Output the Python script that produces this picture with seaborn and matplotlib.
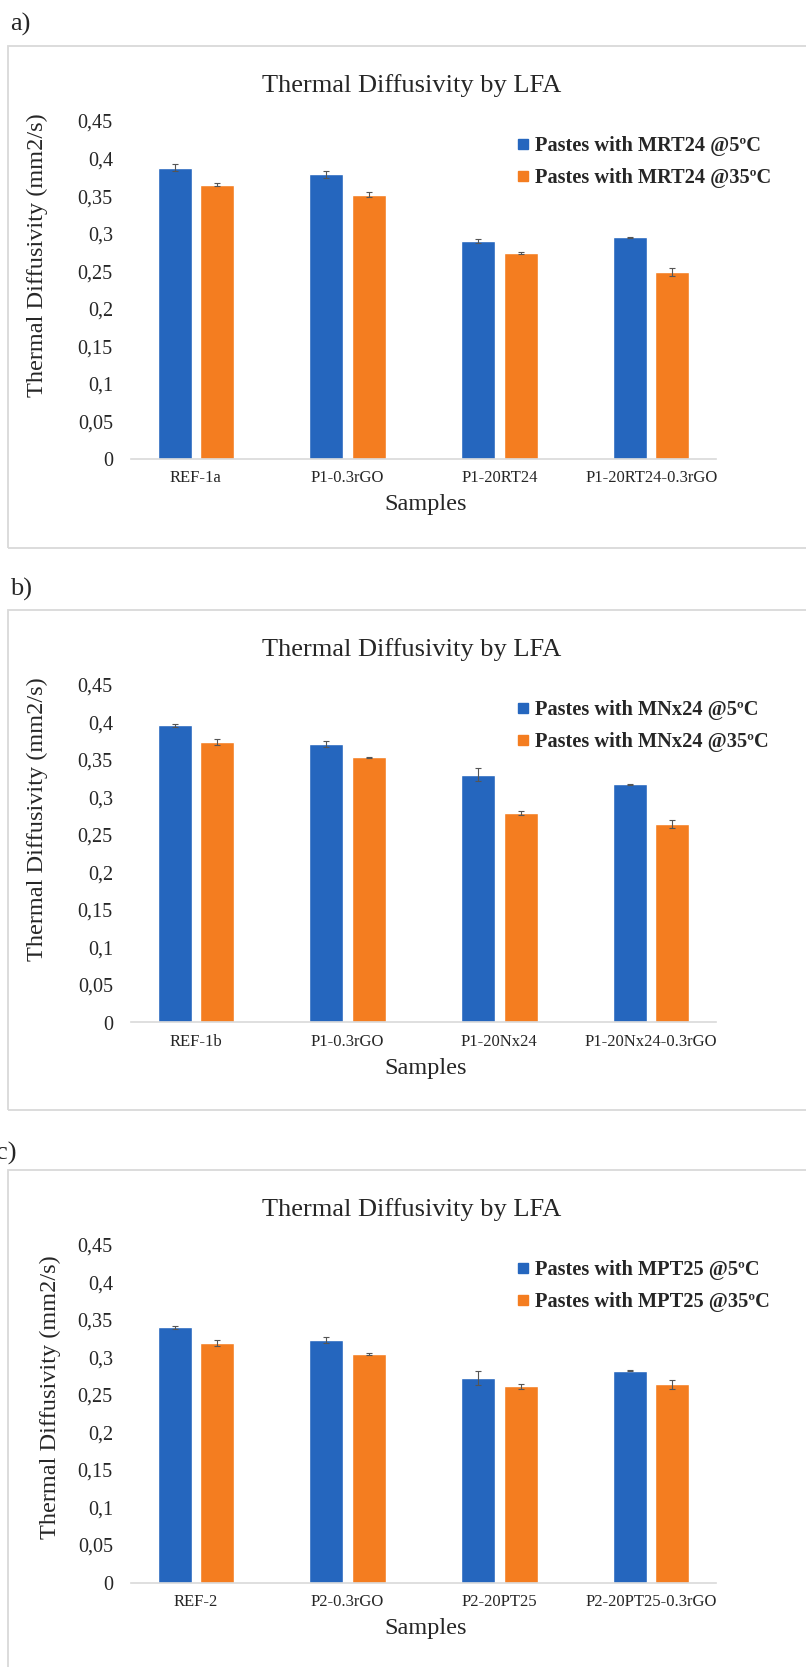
import numpy as np
import pandas as pd
import seaborn as sns
import matplotlib.pyplot as plt
from matplotlib.lines import Line2D
from matplotlib.patches import Rectangle
from matplotlib.ticker import FuncFormatter

# panel a) MRT24 pastes
samples_a = ["REF-1a", "P1-0.3rGO", "P1-20RT24", "P1-20RT24-0.3rGO"]
cold_a = [0.388, 0.379, 0.290, 0.295]
warm_a = [0.365, 0.352, 0.274, 0.249]
cold_err_a = [0.005, 0.005, 0.003, 0.001]
warm_err_a = [0.002, 0.003, 0.001, 0.005]

# panel b) MNx24 pastes
samples_b = ["REF-1b", "P1-0.3rGO", "P1-20Nx24", "P1-20Nx24-0.3rGO"]
cold_b = [0.396, 0.371, 0.330, 0.317]
warm_b = [0.373, 0.353, 0.279, 0.264]
cold_err_b = [0.002, 0.004, 0.009, 0.001]
warm_err_b = [0.004, 0.001, 0.003, 0.005]

# panel c) MPT25 pastes
samples_c = ["REF-2", "P2-0.3rGO", "P2-20PT25", "P2-20PT25-0.3rGO"]
cold_c = [0.340, 0.323, 0.272, 0.282]
warm_c = [0.319, 0.304, 0.261, 0.264]
cold_err_c = [0.002, 0.004, 0.009, 0.001]
warm_err_c = [0.004, 0.001, 0.003, 0.006]

materials = ["MRT24", "MNx24", "MPT25"]
panel_letters = ["a)", "b)", "c)"]

BLUE = "#2566BE"
ORANGE = "#F47D20"
GRID = "#d9d9d9"
W, H = 806, 1667

sns.set_style("white")
plt.rcParams["font.family"] = ["Liberation Serif", "DejaVu Serif"]

fig = plt.figure(figsize=(W / 100, H / 100), dpi=100)


def fx(px):
    return px / W


def fy(py):
    return 1 - py / H


def comma_fmt(v, _):
    return ("%g" % round(v, 2)).replace(".", ",")


def draw_panel(ax, samples, cold, warm, cold_err, warm_err, material, ylab_xy):
    lab_cold = f"Pastes with {material} @5ºC"
    lab_warm = f"Pastes with {material} @35ºC"
    df = pd.DataFrame({
        "Sample": samples * 2,
        "Value": cold + warm,
        "Series": [lab_cold] * len(samples) + [lab_warm] * len(samples),
    })
    sns.barplot(data=df, x="Sample", y="Value", hue="Series",
                palette=[BLUE, ORANGE], saturation=1, width=0.56, gap=0.2,
                errorbar=None, legend=False, ax=ax)

    for cont, errs in zip(ax.containers, [cold_err, warm_err]):
        xs = [p.get_x() + p.get_width() / 2 for p in cont.patches]
        ys = [p.get_height() for p in cont.patches]
        ax.errorbar(xs, ys, yerr=errs, fmt="none", ecolor="#555555",
                    elinewidth=0.8, capsize=2.2, capthick=0.8, zorder=5)

    ax.set_ylim(0, 0.45)
    ax.set_yticks(np.arange(0, 0.451, 0.05))
    ax.yaxis.set_major_formatter(FuncFormatter(comma_fmt))
    ax.tick_params(axis="y", length=0, pad=13, labelsize=14.6)
    ax.tick_params(axis="x", length=0, pad=8, labelsize=12)
    for s in ["top", "right", "left"]:
        ax.spines[s].set_visible(False)
    ax.spines["bottom"].set_color(GRID)
    ax.spines["bottom"].set_linewidth(1.2)

    ax.set_xlabel("Samples", fontsize=17.5)
    ax.xaxis.label.set_va("center")
    ax.xaxis.set_label_coords(0.503, -0.136)
    ax.set_ylabel("Thermal Diffusivity (mm2/s)", fontsize=17.5)
    ax.yaxis.label.set_va("center")
    ax.yaxis.set_label_coords(*ylab_xy)

    ax.text(0.479, 1.105, "Thermal Diffusivity by LFA", fontsize=19,
            ha="center", va="center", transform=ax.transAxes)

    handles = [Line2D([], [], marker="s", ls="", color=BLUE, markersize=6.5),
               Line2D([], [], marker="s", ls="", color=ORANGE, markersize=6.5)]
    ax.legend(handles, [lab_cold, lab_warm], loc="upper left",
              bbox_to_anchor=(0.6607, 0.955), frameon=False,
              prop={"weight": "bold", "size": 14.7}, handlelength=0.5,
              handletextpad=0.35, labelspacing=0.6, borderpad=0,
              borderaxespad=0)


data = [
    (samples_a, cold_a, warm_a, cold_err_a, warm_err_a),
    (samples_b, cold_b, warm_b, cold_err_b, warm_err_b),
    (samples_c, cold_c, warm_c, cold_err_c, warm_err_c),
]
zero_y = [459, 1022.5, 1582.5]
frames = [(46.5, 548), (610, 1110), (1170, 1700)]
letter_pos = [(10, 24), (10, 589), (-4, 1153)]
ylab_pos = [(-0.160, 0.604), (-0.160, 0.603), (-0.138, 0.547)]

for i, (row, zy) in enumerate(zip(data, zero_y)):
    top, bottom = frames[i]
    fig.patches.append(Rectangle((fx(8), fy(bottom)), fx(830), (bottom - top) / H,
                                 transform=fig.transFigure, fill=False,
                                 edgecolor=GRID, linewidth=1.3, zorder=0))
    lx, ly = letter_pos[i]
    fig.text(fx(lx), fy(ly), panel_letters[i], fontsize=19, ha="left", va="center")
    ax = fig.add_axes([fx(131), fy(zy), 585 / W, 338 / H])
    ax.patch.set_alpha(0)
    draw_panel(ax, *row, materials[i], ylab_pos[i])

fig.savefig("out.png", dpi=100)
